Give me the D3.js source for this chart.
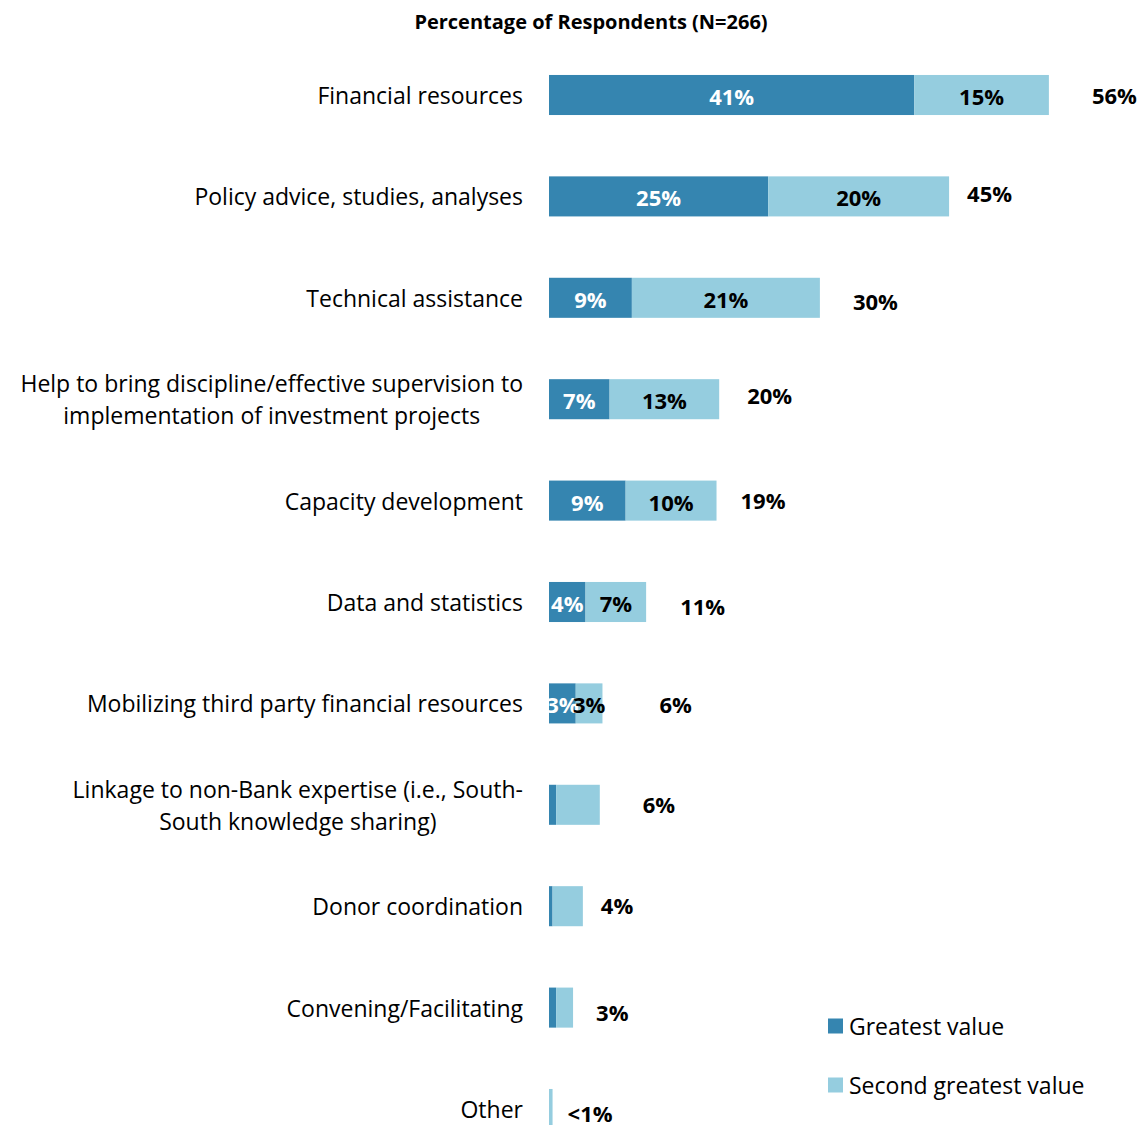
<!DOCTYPE html>
<html>
<head>
<meta charset="utf-8">
<script src="https://cdn.jsdelivr.net/npm/d3@7"></script>
<style>
  body { margin: 0; background: #fff; }
  svg text { font-family: "Open Sans", Lato, sans-serif; }
</style>
</head>
<body>
<script>
// categories (each entry = lines of the label)
var categories = [
    ["Financial resources"],
    ["Policy advice, studies, analyses"],
    ["Technical assistance"],
    ["Help to bring discipline/effective supervision to", "implementation of investment projects"],
    ["Capacity development"],
    ["Data and statistics"],
    ["Mobilizing third party financial resources"],
    ["Linkage to non-Bank expertise (i.e., South-", "South knowledge sharing)"],
    ["Donor coordination"],
    ["Convening/Facilitating"],
    ["Other"]
];
var greatest = [41, 24.6, 9.3, 6.8, 8.6, 4.1, 3.0, 0.8, 0.4, 0.8, 0];
var second   = [15.1, 20.3, 21.1, 12.3, 10.2, 6.8, 3.0, 4.9, 3.4, 1.9, 0.4];
var totalLabels = ["56%", "45%", "30%", "20%", "19%", "11%", "6%", "6%", "4%", "3%", "<1%"];
var greatestLabels = ["41%", "25%", "9%", "7%", "9%", "4%", "3%", "", "", "", ""];
var secondLabels = ["15%", "20%", "21%", "13%", "10%", "7%", "3%", "", "", "", ""];
// label nudges [dx from bar end, dy from bar centre]
var totalNudge = [[43,0],[18,-3],[33,3],[28,-4],[24,-1],[34,4],[57,1],[43,-1],[18,-1],[23,4],[15,4]];
var seriesNames = ["Greatest value", "Second greatest value"];

var W = 1142, H = 1125;
var dark = "#3585b0", light = "#95cddf";

var svg = d3.select("body").append("svg")
    .attr("width", W)
    .attr("height", H);

var idx = d3.range(categories.length);

var x = d3.scaleLinear().domain([0, 56]).range([549, 1048]);
var y = d3.scaleBand()
    .domain(idx)
    .range([44.3, 1159.7])
    .paddingInner(0.605)
    .paddingOuter(0.3025);

// title
svg.append("text")
    .attr("x", 591)
    .attr("y", 21)
    .attr("text-anchor", "middle")
    .attr("dominant-baseline", "central")
    .style("font-size", "20px")
    .style("font-weight", "bold")
    .text("Percentage of Respondents (N=266)");

// rows
var row = svg.selectAll(".row")
    .data(idx)
    .enter().append("g")
    .attr("class", "row");

row.append("rect")
    .attr("x", x(0))
    .attr("y", function(i){ return y(i); })
    .attr("width", function(i){ return x(greatest[i]) - x(0); })
    .attr("height", y.bandwidth())
    .style("fill", dark);

row.append("rect")
    .attr("x", function(i){ return x(greatest[i]); })
    .attr("y", function(i){ return y(i); })
    .attr("width", function(i){ return x(greatest[i] + second[i]) - x(greatest[i]); })
    .attr("height", y.bandwidth())
    .style("fill", light);

// segment labels
row.append("text")
    .attr("x", function(i){ return (x(0) + x(greatest[i])) / 2; })
    .attr("y", function(i){ return y(i) + y.bandwidth() / 2 + 1; })
    .attr("text-anchor", "middle")
    .attr("dominant-baseline", "central")
    .style("font-size", "22px")
    .style("font-weight", "bold")
    .style("fill", "#fff")
    .text(function(i){ return greatestLabels[i]; });

row.append("text")
    .attr("x", function(i){ return (x(greatest[i]) + x(greatest[i] + second[i])) / 2; })
    .attr("y", function(i){ return y(i) + y.bandwidth() / 2 + 1; })
    .attr("text-anchor", "middle")
    .attr("dominant-baseline", "central")
    .style("font-size", "22px")
    .style("font-weight", "bold")
    .style("fill", "#000")
    .text(function(i){ return secondLabels[i]; });

// totals
row.append("text")
    .attr("x", function(i){ return x(greatest[i] + second[i]) + totalNudge[i][0]; })
    .attr("y", function(i){ return y(i) + y.bandwidth() / 2 + totalNudge[i][1]; })
    .attr("dominant-baseline", "central")
    .style("font-size", "22px")
    .style("font-weight", "bold")
    .style("fill", "#000")
    .text(function(i){ return totalLabels[i]; });

// category labels: single line right aligned, wrapped lines centred as a block
var labelRight = 523, lineGap = 32;
row.each(function(i){
    var g = d3.select(this);
    var lines = categories[i];
    var cy = y(i) + y.bandwidth() / 2;
    var t = g.append("text")
        .attr("dominant-baseline", "central")
        .style("font-size", "23px")
        .style("fill", "#000");
    lines.forEach(function(l, k){
        t.append("tspan")
            .attr("y", cy + (k - (lines.length - 1) / 2) * lineGap)
            .text(l);
    });
    if (lines.length === 1) {
        t.attr("text-anchor", "end");
        t.selectAll("tspan").attr("x", labelRight);
    } else {
        var maxW = d3.max(t.selectAll("tspan").nodes(), function(n){ return n.getComputedTextLength(); });
        t.attr("text-anchor", "middle");
        t.selectAll("tspan").attr("x", labelRight - maxW / 2);
    }
});

// legend
var legend = svg.selectAll(".legend")
    .data(seriesNames)
    .enter().append("g")
    .attr("class", "legend")
    .attr("transform", function(d, k){ return "translate(828," + (1026 + k * 59) + ")"; });

legend.append("rect")
    .attr("x", 0)
    .attr("y", -7.5)
    .attr("width", 15)
    .attr("height", 15)
    .style("fill", function(d, k){ return k === 0 ? dark : light; });

legend.append("text")
    .attr("x", 21)
    .attr("y", 0)
    .attr("dominant-baseline", "central")
    .style("font-size", "23px")
    .text(function(d){ return d; });
</script>
</body>
</html>
